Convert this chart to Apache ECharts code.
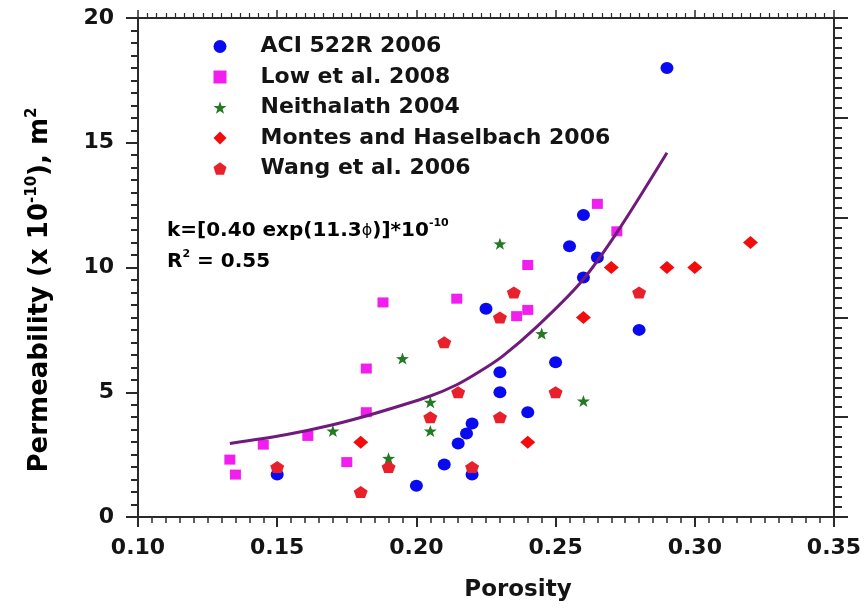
<!DOCTYPE html>
<html>
<head>
<meta charset="utf-8">
<script src="https://cdn.jsdelivr.net/npm/echarts@6/dist/echarts.min.js"></script>
<style>
  html, body { margin: 0; padding: 0; background: #fff; }
  #chart { width: 865px; height: 609px; }
</style>
</head>
<body>
<div id="chart"></div>
<script>
// Axis ranges and tick steps
const porosityTicks = [0.10, 0.15, 0.20, 0.25, 0.30, 0.35];
const permeabilityTicks = [0, 5, 10, 15, 20];

// Data sources, [porosity, permeability x 1e-10 m^2]
const sourceNames = ['ACI 522R 2006', 'Low et al. 2008', 'Neithalath 2004', 'Montes and Haselbach 2006', 'Wang et al. 2006'];

const aci522r = [
  [0.15, 1.7], [0.20, 1.25], [0.21, 2.1], [0.215, 2.95], [0.218, 3.35], [0.22, 3.75],
  [0.22, 1.7], [0.225, 8.35], [0.23, 5.8], [0.23, 5.0], [0.24, 4.2], [0.25, 6.2],
  [0.255, 10.85], [0.26, 12.1], [0.26, 9.6], [0.265, 10.4], [0.28, 7.5], [0.29, 18.0]
];
const low2008 = [
  [0.133, 2.3], [0.135, 1.7], [0.145, 2.9], [0.161, 3.25], [0.175, 2.2], [0.182, 4.2],
  [0.182, 5.95], [0.188, 8.6], [0.2145, 8.75], [0.236, 8.05], [0.24, 8.3], [0.24, 10.1],
  [0.265, 12.55], [0.272, 11.45]
];
const neithalath2004 = [
  [0.17, 3.45], [0.19, 2.35], [0.195, 6.35], [0.205, 4.6], [0.205, 3.45],
  [0.23, 10.95], [0.245, 7.35], [0.26, 4.65]
];
const montes2006 = [
  [0.18, 3.0], [0.24, 3.0], [0.26, 8.0], [0.27, 10.0], [0.29, 10.0], [0.30, 10.0], [0.32, 11.0]
];
const wang2006 = [
  [0.15, 2.0], [0.18, 1.0], [0.19, 2.0], [0.205, 4.0], [0.21, 7.0], [0.215, 5.0],
  [0.22, 2.0], [0.23, 4.0], [0.23, 8.0], [0.235, 9.0], [0.25, 5.0], [0.28, 9.0]
];

// Fitted trend curve
const fitCurve = [
  [0.133, 2.95], [0.153, 3.3], [0.170, 3.7], [0.185, 4.15], [0.205, 4.85], [0.2145, 5.3],
  [0.223, 5.85], [0.231, 6.45], [0.243, 7.6], [0.259, 9.4], [0.272, 11.4], [0.290, 14.6]
];

const STAR = 'path://M50,2 L61.29,34.47 L95.65,35.17 L68.26,55.93 L78.21,88.83 L50,69.2 L21.79,88.83 L31.74,55.93 L4.35,35.17 L38.71,34.47 Z';
const PENTAGON = 'path://M50,2 L95.65,35.17 L78.21,88.83 L21.79,88.83 L4.35,35.17 Z';

const FONT = 'DejaVu Sans';
const INK = '#141414';
const AXIS = '#2a2a2a';

const xStep = porosityTicks[1] - porosityTicks[0];
const yStep = permeabilityTicks[1] - permeabilityTicks[0];

const markers = [
  { data: aci522r, symbol: 'circle', size: [13, 12], color: '#0a0af0' },
  { data: low2008, symbol: 'rect', size: [11, 10], color: '#f21ef0' },
  { data: neithalath2004, symbol: STAR, size: [13, 12], color: '#237a23' },
  { data: montes2006, symbol: 'diamond', size: [15, 13], color: '#f20c0c' },
  { data: wang2006, symbol: PENTAGON, size: [14, 12], color: '#e8202c' }
];

const chart = echarts.init(document.getElementById('chart'), null, { renderer: 'canvas' });

const tickLabel = { fontFamily: FONT, fontWeight: 'bold', fontSize: 22, color: INK };

chart.setOption({
  animation: false,
  backgroundColor: '#ffffff',
  grid: { left: 138, right: 31, top: 18, bottom: 92 },
  legend: {
    orient: 'vertical',
    left: 208.5,
    top: 30.5,
    itemWidth: 13,
    itemHeight: 13,
    itemGap: 8.5,
    selectedMode: false,
    data: sourceNames.map((n, i) => ({ name: n, icon: markers[i].symbol })),
    textStyle: { fontFamily: FONT, fontWeight: 'bold', fontSize: 22, lineHeight: 22, color: INK, padding: [0, 0, 0, 29] }
  },
  xAxis: [
    {
      type: 'value', position: 'bottom',
      min: porosityTicks[0], max: porosityTicks[porosityTicks.length - 1], interval: xStep,
      axisLine: { show: true, onZero: false, lineStyle: { color: AXIS, width: 2 } },
      axisTick: { show: true, inside: false, length: 10, lineStyle: { color: AXIS, width: 2 } },
      minorTick: { show: true, splitNumber: 10, length: 6, lineStyle: { color: AXIS, width: 1.5 } },
      splitLine: { show: false },
      axisLabel: Object.assign({ margin: 20, formatter: v => v.toFixed(2) }, tickLabel)
    },
    {
      type: 'value', position: 'top',
      min: porosityTicks[0], max: porosityTicks[porosityTicks.length - 1], interval: xStep,
      axisLine: { show: true, onZero: false, lineStyle: { color: AXIS, width: 2 } },
      axisTick: { show: true, inside: false, length: 8, lineStyle: { color: AXIS, width: 1.5 } },
      minorTick: { show: true, splitNumber: 15, length: 5, lineStyle: { color: AXIS, width: 1.2 } },
      splitLine: { show: false },
      axisLabel: { show: false }
    }
  ],
  yAxis: [
    {
      type: 'value', position: 'left',
      min: permeabilityTicks[0], max: permeabilityTicks[permeabilityTicks.length - 1], interval: yStep,
      axisLine: { show: true, onZero: false, lineStyle: { color: AXIS, width: 2 } },
      axisTick: { show: true, inside: false, length: 12, lineStyle: { color: AXIS, width: 2 } },
      minorTick: { show: true, splitNumber: 10, length: 7, lineStyle: { color: AXIS, width: 2 } },
      splitLine: { show: false },
      axisLabel: Object.assign({ margin: 24 }, tickLabel)
    },
    {
      type: 'value', position: 'right',
      min: 0, max: 25, interval: 5,
      axisLine: { show: true, onZero: false, lineStyle: { color: AXIS, width: 2 } },
      axisTick: { show: true, inside: false, length: 14, lineStyle: { color: AXIS, width: 2 } },
      minorTick: { show: true, splitNumber: 10, length: 8, lineStyle: { color: AXIS, width: 2 } },
      splitLine: { show: false },
      axisLabel: { show: false }
    }
  ],
  series: markers.map((m, i) => ({
    name: sourceNames[i],
    type: 'scatter',
    data: m.data,
    symbol: m.symbol,
    symbolSize: m.size,
    itemStyle: { color: m.color, opacity: 1 },
    z: 3 + i
  })).concat([{
    name: 'fit',
    type: 'line',
    data: fitCurve,
    smooth: 0.3,
    showSymbol: false,
    lineStyle: { color: '#701a7c', width: 3 },
    z: 10
  }]),
  graphic: [
    {
      type: 'text', x: 167, y: 231,
      style: {
        text: '{m|k=[0.40 exp(11.3}{p|ϕ}{m|)]*10}{s|-10}',
        verticalAlign: 'middle',
        rich: {
          m: { fontFamily: FONT, fontWeight: 'bold', fontSize: 20, lineHeight: 26, color: INK },
          p: { fontFamily: FONT, fontSize: 16, lineHeight: 26, color: '#6a6a6a' },
          s: { fontFamily: FONT, fontWeight: 'bold', fontSize: 11, lineHeight: 12, verticalAlign: 'top', color: INK }
        }
      }
    },
    {
      type: 'text', x: 167, y: 262,
      style: {
        text: '{m|R}{s|2}{m| = 0.55}',
        verticalAlign: 'middle',
        rich: {
          m: { fontFamily: FONT, fontWeight: 'bold', fontSize: 20, lineHeight: 26, color: INK },
          s: { fontFamily: FONT, fontWeight: 'bold', fontSize: 11, lineHeight: 12, verticalAlign: 'top', color: INK }
        }
      }
    },
    {
      type: 'text', x: 40, y: 290, rotation: Math.PI / 2,
      style: {
        text: '{m|Permeability (x 10}{s|-10}{m|), m}{s|2}',
        align: 'center', verticalAlign: 'middle',
        rich: {
          m: { fontFamily: FONT, fontWeight: 'bold', fontSize: 26, lineHeight: 30, color: INK },
          s: { fontFamily: FONT, fontWeight: 'bold', fontSize: 15, lineHeight: 15, verticalAlign: 'top', color: INK }
        }
      }
    },
    {
      type: 'text', x: 518, y: 590,
      style: {
        text: 'Porosity',
        align: 'center', verticalAlign: 'middle',
        fontFamily: FONT, fontWeight: 'bold', fontSize: 23, fill: INK
      }
    }
  ]
});
</script>
</body>
</html>
